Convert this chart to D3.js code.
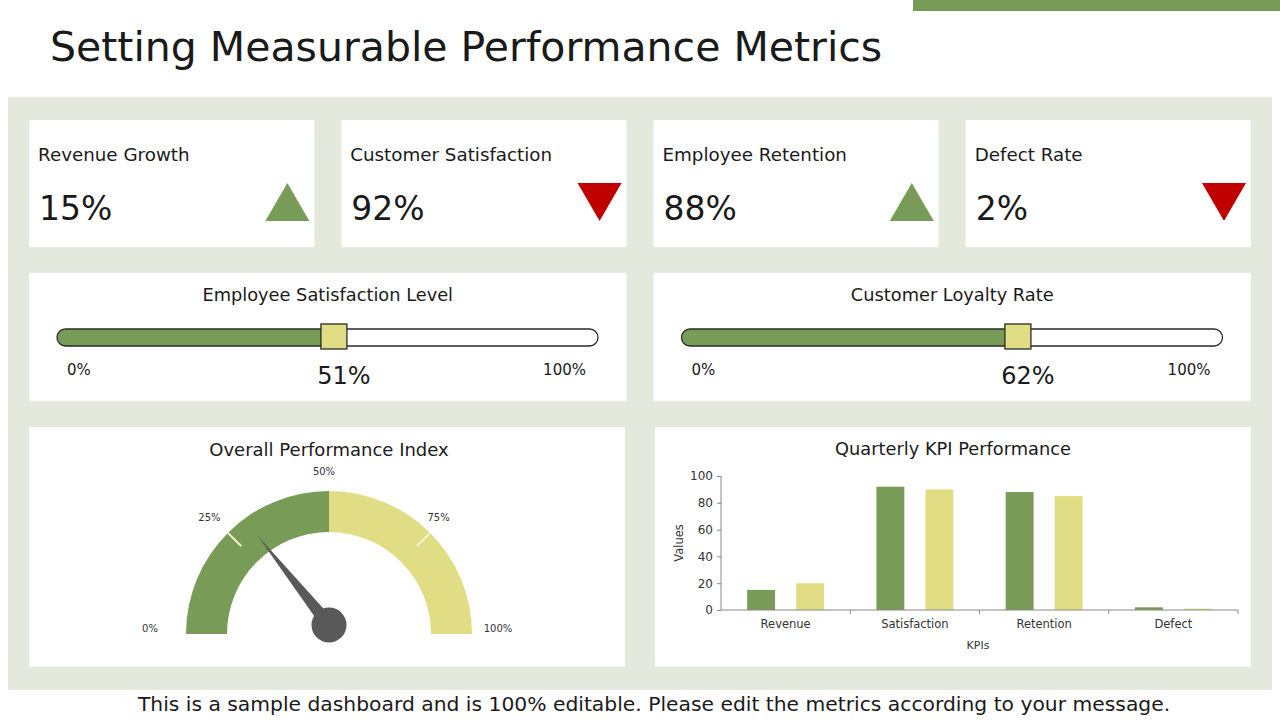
<!DOCTYPE html>
<html>
<head>
<meta charset="utf-8">
<script src="https://cdn.jsdelivr.net/npm/d3@7"></script>
<style>
  body { margin: 0; background: #fff; }
  svg { display: block; font-family: "DejaVu Sans", sans-serif; }
</style>
</head>
<body>
<div id="chart"></div>
<script>
// KPI cards
var kpiLabels = ["Revenue Growth", "Customer Satisfaction", "Employee Retention", "Defect Rate"];
var kpiValues = [15, 92, 88, 2];
var kpiTrend = ["up", "down", "up", "down"];

// sliders
var sliderTitles = ["Employee Satisfaction Level", "Customer Loyalty Rate"];
var sliderValues = [51, 62];

// gauge
var gaugeValue = 30;
var gaugeTicks = [0, 25, 50, 75, 100];

// bar chart
var barCategories = ["Revenue", "Satisfaction", "Retention", "Defect"];
var currentValues = [15, 92, 88, 2];
var targetValues = [20, 90, 85, 1];
var yTicks = [0, 20, 40, 60, 80, 100];

var green = "#789b58", yellow = "#e0dd85", red = "#c00000", ink = "#1a1a1a";

var W = 1280, H = 720;
var svg = d3.select("#chart").append("svg")
    .attr("width", W)
    .attr("height", H);

// top accent bar + title
svg.append("rect").attr("x", 913).attr("y", 0).attr("width", 367).attr("height", 11).attr("fill", green);
svg.append("text")
    .attr("x", 50).attr("y", 61)
    .attr("font-size", 41)
    .attr("fill", ink)
    .text("Setting Measurable Performance Metrics");

// panel background
svg.append("rect").attr("x", 8).attr("y", 97).attr("width", 1264).attr("height", 593).attr("fill", "#e3e9dd");

// ---------- KPI cards ----------
var cardX = d3.scaleBand().domain(d3.range(kpiLabels.length)).range([29, 1251]).paddingInner(0.086);

var cards = svg.selectAll(".card")
    .data(kpiLabels)
    .enter().append("g")
    .attr("class", "card")
    .attr("transform", function(d, i) { return "translate(" + cardX(i) + ",120)"; });

cards.append("rect")
    .attr("width", cardX.bandwidth())
    .attr("height", 127)
    .attr("fill", "#fff");

cards.append("text")
    .attr("x", 9).attr("y", 41)
    .attr("font-size", 18.3)
    .attr("fill", ink)
    .text(function(d) { return d; });

cards.append("text")
    .attr("x", 10).attr("y", 100)
    .attr("font-size", 33)
    .attr("fill", ink)
    .text(function(d, i) { return kpiValues[i] + "%"; });

cards.append("path")
    .attr("transform", function() { return "translate(" + (cardX.bandwidth() - 27) + ",82)"; })
    .attr("d", function(d, i) {
        return kpiTrend[i] === "up"
            ? "M0,-19L22,19L-22,19Z"
            : "M-22,-19L22,-19L0,19Z";
    })
    .attr("fill", function(d, i) { return kpiTrend[i] === "up" ? green : red; });

// ---------- sliders ----------
var panelX = d3.scaleBand().domain([0, 1]).range([29, 1251]).paddingInner(0.0432);

sliderTitles.forEach(function(title, i) {
    var g = svg.append("g").attr("transform", "translate(" + panelX(i) + ",273)");
    var pw = panelX.bandwidth();
    g.append("rect").attr("width", pw).attr("height", 128).attr("fill", "#fff");
    g.append("text")
        .attr("x", pw / 2).attr("y", 28)
        .attr("text-anchor", "middle")
        .attr("font-size", 17.8)
        .attr("fill", ink)
        .text(title);

    var sx = d3.scaleLinear().domain([0, 100]).range([28, 569]);
    var by = 56, bh = 17;

    g.append("clipPath").attr("id", "clip" + i)
        .append("rect")
        .attr("x", sx(0)).attr("y", by)
        .attr("width", sx(sliderValues[i]) - sx(0)).attr("height", bh);
    g.append("rect")
        .attr("x", sx(0)).attr("y", by)
        .attr("width", sx(100) - sx(0)).attr("height", bh)
        .attr("rx", bh / 2)
        .attr("fill", green)
        .attr("clip-path", "url(#clip" + i + ")");
    g.append("rect")
        .attr("x", sx(0)).attr("y", by)
        .attr("width", sx(100) - sx(0)).attr("height", bh)
        .attr("rx", bh / 2)
        .attr("fill", "none")
        .attr("stroke", "#2a2a2a")
        .attr("stroke-width", 1.3);

    g.append("rect")
        .attr("x", sx(sliderValues[i]) - 12).attr("y", by - 5)
        .attr("width", 26).attr("height", 25)
        .attr("fill", yellow)
        .attr("stroke", "#2a2a2a")
        .attr("stroke-width", 1.3);

    g.append("text")
        .attr("x", sx(0) + 10).attr("y", 102)
        .attr("font-size", 15)
        .attr("fill", ink)
        .text("0%");
    g.append("text")
        .attr("x", sx(100) - 12).attr("y", 102)
        .attr("text-anchor", "end")
        .attr("font-size", 15)
        .attr("fill", ink)
        .text("100%");
    g.append("text")
        .attr("x", sx(sliderValues[i]) + 11).attr("y", 111)
        .attr("text-anchor", "middle")
        .attr("font-size", 24)
        .attr("fill", ink)
        .text(sliderValues[i] + "%");
});

// ---------- gauge ----------
var gp = svg.append("g").attr("transform", "translate(29,427)");
gp.append("rect").attr("width", 596).attr("height", 240).attr("fill", "#fff");
gp.append("text")
    .attr("x", 300).attr("y", 29)
    .attr("text-anchor", "middle")
    .attr("font-size", 18)
    .attr("fill", ink)
    .text("Overall Performance Index");

var gcx = 329, gcy = 634, rOut = 143, rIn = 102;
var angle = d3.scaleLinear().domain([0, 100]).range([-Math.PI / 2, Math.PI / 2]);
var gauge = svg.append("g").attr("transform", "translate(" + gcx + "," + gcy + ")");
var arc = d3.arc().innerRadius(rIn).outerRadius(rOut);

gauge.append("path")
    .attr("d", arc({ startAngle: angle(0), endAngle: angle(50) }))
    .attr("fill", green);
gauge.append("path")
    .attr("d", arc({ startAngle: angle(50), endAngle: angle(100) }))
    .attr("fill", yellow);

// separators at 25% and 75%
gauge.selectAll(".sep")
    .data([25, 75])
    .enter().append("line")
    .attr("x1", function(d) { return 124 * Math.sin(angle(d)); })
    .attr("y1", function(d) { return -124 * Math.cos(angle(d)); })
    .attr("x2", function(d) { return rOut * Math.sin(angle(d)); })
    .attr("y2", function(d) { return -rOut * Math.cos(angle(d)); })
    .attr("stroke", "#f3f3cf")
    .attr("stroke-width", 2);

// labels sit a little further out at the two ends
gauge.selectAll(".glabel")
    .data(gaugeTicks)
    .enter().append("text")
    .attr("x", function(d) {
        var r = (d === 0 || d === 100) ? 174 : 162;
        return r * Math.sin(angle(d)) - 5;
    })
    .attr("y", function(d) { return -157 * Math.cos(angle(d)) - 5; })
    .attr("text-anchor", "middle")
    .attr("dominant-baseline", "middle")
    .attr("font-size", 10)
    .attr("fill", "#333")
    .text(function(d) { return d + "%"; });

// needle
var na = angle(gaugeValue), nl = 122, hubY = -9;
var tipX = nl * Math.sin(na), tipY = -nl * Math.cos(na);
var px = 7 * Math.cos(na), py = 7 * Math.sin(na);
gauge.append("path")
    .attr("d", "M" + tipX + "," + tipY +
        "L" + px + "," + (hubY + py) +
        "L" + (-px) + "," + (hubY - py) + "Z")
    .attr("fill", "#595959");
gauge.append("circle")
    .attr("cx", 0).attr("cy", hubY)
    .attr("r", 17.5)
    .attr("fill", "#595959");

// ---------- bar chart ----------
var bp = svg.append("g").attr("transform", "translate(655,427)");
bp.append("rect").attr("width", 596).attr("height", 240).attr("fill", "#fff");
bp.append("text")
    .attr("x", 298).attr("y", 28)
    .attr("text-anchor", "middle")
    .attr("font-size", 17.8)
    .attr("fill", ink)
    .text("Quarterly KPI Performance");

var x0 = d3.scaleBand().domain(barCategories).range([721, 1238]);
var x1 = d3.scaleBand().domain(["current", "target"]).range([0, x0.bandwidth()]).paddingInner(0.43).paddingOuter(0.534);
var y = d3.scaleLinear().domain([0, 100]).range([610, 476]);

var groups = svg.selectAll(".kpi")
    .data(barCategories)
    .enter().append("g")
    .attr("transform", function(d) { return "translate(" + x0(d) + ",0)"; });

groups.append("rect")
    .attr("x", x1("current"))
    .attr("y", function(d, i) { return y(currentValues[i]); })
    .attr("width", x1.bandwidth())
    .attr("height", function(d, i) { return y(0) - y(currentValues[i]); })
    .attr("fill", green);
groups.append("rect")
    .attr("x", x1("target"))
    .attr("y", function(d, i) { return y(targetValues[i]); })
    .attr("width", x1.bandwidth())
    .attr("height", function(d, i) { return y(0) - y(targetValues[i]); })
    .attr("fill", yellow);

var xAxis = svg.append("g")
    .attr("transform", "translate(0," + y(0) + ")")
    .call(d3.axisBottom(x0).tickSize(0).tickPadding(10));
xAxis.select(".domain").attr("stroke", "#888").attr("d", "M" + x0.range()[0] + ",0H" + x0.range()[1]);
xAxis.selectAll("text").attr("font-size", 11.5).attr("fill", "#333").attr("font-family", "DejaVu Sans");
xAxis.selectAll(".sepTick")
    .data(barCategories)
    .enter().append("line")
    .attr("x1", function(d) { return x0(d) + x0.bandwidth(); })
    .attr("x2", function(d) { return x0(d) + x0.bandwidth(); })
    .attr("y1", 0).attr("y2", 4)
    .attr("stroke", "#888");

var yAxis = svg.append("g")
    .attr("transform", "translate(" + x0.range()[0] + ",0)")
    .call(d3.axisLeft(y).tickValues(yTicks).tickSize(4).tickPadding(4));
yAxis.select(".domain").attr("stroke", "#888").attr("d", "M0," + y(100) + "V" + y(0));
yAxis.selectAll(".tick line").attr("stroke", "#888");
yAxis.selectAll("text").attr("font-size", 12).attr("fill", "#333").attr("font-family", "DejaVu Sans");

svg.append("text")
    .attr("transform", "translate(683,543) rotate(-90)")
    .attr("text-anchor", "middle")
    .attr("font-size", 11.5)
    .attr("fill", "#333")
    .text("Values");
svg.append("text")
    .attr("x", 978).attr("y", 649)
    .attr("text-anchor", "middle")
    .attr("font-size", 11)
    .attr("fill", "#333")
    .text("KPIs");

// footer
svg.append("text")
    .attr("x", 654).attr("y", 711)
    .attr("text-anchor", "middle")
    .attr("font-size", 20.3)
    .attr("fill", ink)
    .text("This is a sample dashboard and is 100% editable. Please edit the metrics according to your message.");
</script>
</body>
</html>
